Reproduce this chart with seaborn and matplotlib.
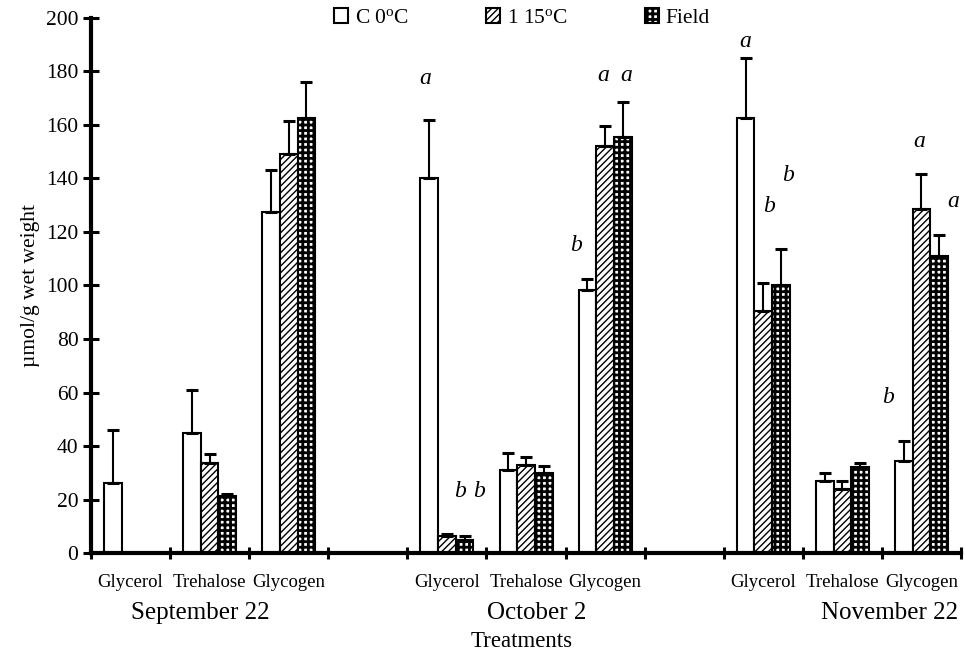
import numpy as np
import pandas as pd
import matplotlib
matplotlib.use('Agg')
import matplotlib.pyplot as plt
import seaborn as sns

# datos (umol/g peso humedo)
dates = ['September 22', 'October 2', 'November 22']
sugars = ['Glycerol', 'Trehalose', 'Glycogen']
treatments = ['0C', '15C', 'Field']
legend_labels = [r'C 0$\mathregular{^{o}}$C', r'1 15$\mathregular{^{o}}$C', 'Field']

mean_0c = [26, 45, 127.5, 140, 31, 98.5, 162.5, 27, 34.5]
mean_15c = [0, 33.5, 149, 6.5, 33, 152, 90.5, 24, 128.5]
mean_field = [0, 21.5, 162.5, 5, 30, 155.5, 100, 32, 111]

err_0c = [20, 16, 15.5, 22, 6.5, 4, 22.5, 3, 7.5]
err_15c = [0, 3.5, 12.5, 0.7, 3, 7.5, 10.5, 3, 13]
err_field = [0, 0.5, 13.5, 1.5, 2.5, 13, 13.5, 1.5, 8]

# letras de significancia: (posicion x, valor y, letra)
letter_x = [3.73, 4.17, 4.4, 5.63, 5.97, 6.27, 7.77, 8.07, 8.31, 9.58, 9.97, 10.4]
letter_y = [177.5, 23, 23, 115, 178.5, 178.5, 191.3, 129.6, 141.2, 58, 154, 131.4]
letters = ['a', 'b', 'b', 'b', 'a', 'a', 'a', 'b', 'b', 'b', 'a', 'a']

# posiciones de las etiquetas de fecha
date_x = [0.88, 5.13, 9.59]

sns.set_style('white')
plt.rcParams['font.family'] = ['Liberation Serif', 'DejaVu Serif']
plt.rcParams['mathtext.fontset'] = 'custom'
plt.rcParams['mathtext.rm'] = 'Liberation Serif'
plt.rcParams['mathtext.it'] = 'Liberation Serif:italic'
plt.rcParams['hatch.linewidth'] = 1.0
for k in ['text.color', 'axes.labelcolor', 'xtick.color', 'ytick.color']:
    plt.rcParams[k] = 'black'

# tabla larga
groups = [f'{d} {s}' for d in dates for s in sugars]
rows = []
for i, g in enumerate(groups):
    for t, m, e in zip(treatments, [mean_0c, mean_15c, mean_field], [err_0c, err_15c, err_field]):
        rows.append({'group': g, 'treatment': t, 'value': m[i], 'err': e[i]})
df = pd.DataFrame(rows)

order = groups[0:3] + ['gap1'] + groups[3:6] + ['gap2'] + groups[6:9]
tick_labels = sugars + [''] + sugars + [''] + sugars

fig, ax = plt.subplots(figsize=(9.65, 6.51), dpi=100)
fig.subplots_adjust(left=0.0943, right=0.9959, bottom=0.1505, top=0.9724)

sns.barplot(data=df, x='group', y='value', hue='treatment', order=order,
            hue_order=treatments, palette=['white'] * 3, width=0.67,
            errorbar=None, edgecolor='black', linewidth=1.5, legend=False, ax=ax)

hatches = ['', '/////', '+++']
hatch_lw = [1.0, 1.0, 2.0]


def set_hatch_lw(p, lw):
    if hasattr(p, 'set_hatch_linewidth'):
        p.set_hatch_linewidth(lw)
    p._hatch_linewidth = lw


bar_conts = list(ax.containers)
for ci, cont in enumerate(bar_conts):
    for bar in cont:
        if bar is None:
            continue
        bar.set_hatch(hatches[ci])
        set_hatch_lw(bar, hatch_lw[ci])
        xc = bar.get_x() + bar.get_width() / 2
        gi = int(round(xc))
        sel = df[(df['group'] == order[gi]) & (df['treatment'] == treatments[ci])]
        if len(sel) == 0:
            continue
        e = sel['err'].iloc[0]
        h = sel['value'].iloc[0]
        if e > 0:
            ax.errorbar(xc, h, yerr=[[0], [e]], fmt='none', ecolor='black',
                        elinewidth=1.5, capsize=4.5, capthick=2.2, zorder=3)

for x, y, t in zip(letter_x, letter_y, letters):
    ax.text(x, y, t, ha='center', va='center', fontsize=17, style='italic')

ax.set_xlim(-0.5, 10.5)
ax.set_ylim(0, 200)
ax.set_yticks(np.arange(0, 201, 20))
ax.set_xticks(range(len(order)))
ax.set_xticklabels(tick_labels)
ax.set_xticks(np.arange(-0.5, 11, 1), minor=True)
ax.tick_params(axis='x', which='major', bottom=True, length=0, pad=15, labelsize=13.5)
ax.tick_params(axis='x', which='minor', bottom=True, direction='inout', length=9, width=2.2)
ax.tick_params(axis='y', left=True, direction='inout', length=12, width=2.2, labelsize=15.5, pad=3)
ax.set_xlabel('')
ax.set_ylabel('\u00b5mol/g wet weight', fontsize=15.5, labelpad=4)

for s in ['top', 'right']:
    ax.spines[s].set_visible(False)
for s in ['left', 'bottom']:
    ax.spines[s].set_linewidth(3)
    ax.spines[s].set_color('black')

trans = ax.get_xaxis_transform()
for x, d in zip(date_x, dates):
    ax.text(x, -0.112, d, transform=trans, ha='center', va='center', fontsize=18)
ax.text(4.94, -0.165, 'Treatments', transform=trans, ha='center', va='center', fontsize=16.5)

leg = ax.legend(bar_conts, legend_labels, loc='center', bbox_to_anchor=(0.541, 0.972),
                bbox_transform=fig.transFigure, ncol=3, frameon=False, fontsize=15.5,
                handlelength=0.65, handleheight=0.65, handletextpad=0.3, columnspacing=3.6)
for h, lw in zip(leg.legend_handles, hatch_lw):
    set_hatch_lw(h, lw)

plt.savefig('out.png', dpi=100)
